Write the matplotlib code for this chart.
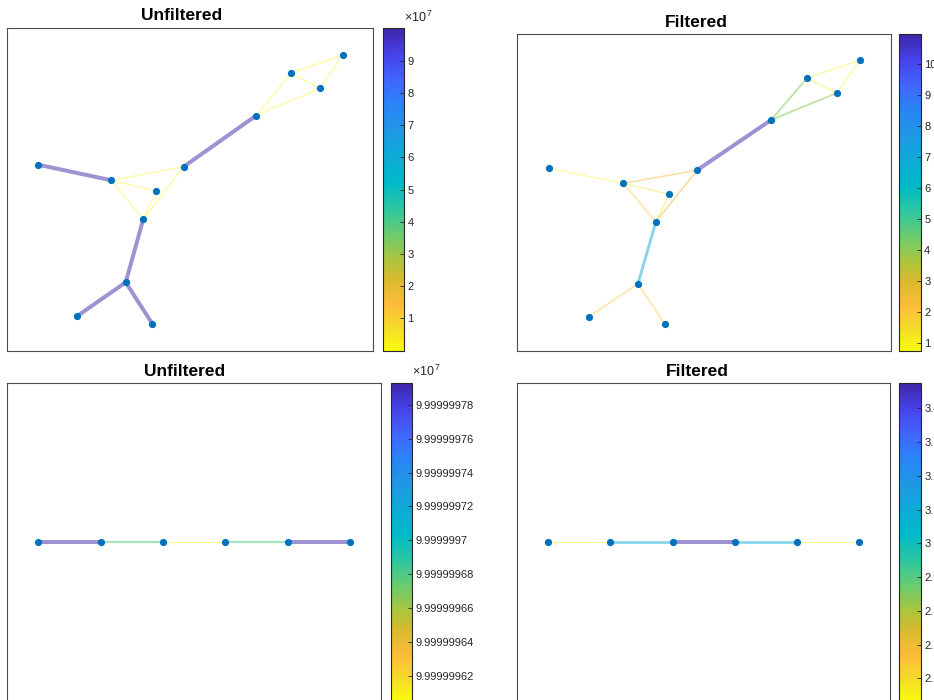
import matplotlib
matplotlib.use("Agg")
import matplotlib.pyplot as plt
import numpy as np
from matplotlib import transforms
from matplotlib.cm import ScalarMappable
from matplotlib.collections import LineCollection
from matplotlib.colors import LinearSegmentedColormap, Normalize

plt.rcParams["font.family"] = ["Liberation Sans", "DejaVu Sans"]
plt.rcParams["mathtext.fontset"] = "custom"
plt.rcParams["mathtext.rm"] = "Liberation Sans"

# ---- graph 1: 12-node layout (top row) ----
NODE_X = [31.0, 104.0, 149.0, 176.4, 136.0, 118.4, 70.0, 145.0, 248.7, 283.7, 313.0, 335.4]
NODE_Y = [186.0, 170.4, 159.4, 184.0, 131.7, 68.4, 34.7, 27.0, 235.0, 277.4, 262.4, 295.7]
EDGES = [(0, 1), (1, 3), (1, 2), (1, 4), (2, 4), (4, 3), (3, 8), (4, 5),
         (5, 6), (5, 7), (8, 9), (8, 10), (9, 10), (9, 11), (10, 11)]
W_UNFILTERED = [1e8, 1, 1, 1, 1, 1, 1e8, 1e8, 1e8, 1e8, 1, 1, 1, 1, 1]
W_FILTERED = [0.75, 2.3, 1.3, 1.9, 1.4, 2.6, 10.98, 6.9, 2.0, 2.0, 4.1, 4.1, 1.1, 1.0, 1.0]

# ---- graph 2: 6-node path (bottom row) ----
PATH_X = [1, 2, 3, 4, 5, 6]
PATH_Y = [0, 0, 0, 0, 0, 0]
PATH_EDGES = [(0, 1), (1, 2), (2, 3), (3, 4), (4, 5)]
PATH_W_UNFILTERED = [99999997.93, 99999996.80, 99999996.05, 99999996.80, 99999997.93]
PATH_W_FILTERED = [2.533, 3.10, 3.475, 3.10, 2.533]

# colorbar ticks
TICKS_TL = [1e7, 2e7, 3e7, 4e7, 5e7, 6e7, 7e7, 8e7, 9e7]
LABELS_TL = ["1", "2", "3", "4", "5", "6", "7", "8", "9"]
TICKS_TR = [1, 2, 3, 4, 5, 6, 7, 8, 9, 10]
LABELS_TR = ["1", "2", "3", "4", "5", "6", "7", "8", "9", "10"]
TICKS_BL = [99999996.2, 99999996.4, 99999996.6, 99999996.8, 99999997.0,
            99999997.2, 99999997.4, 99999997.6, 99999997.8]
LABELS_BL = ["9.99999962", "9.99999964", "9.99999966", "9.99999968", "9.9999997",
             "9.99999972", "9.99999974", "9.99999976", "9.99999978"]
TICKS_BR = [2.6, 2.7, 2.8, 2.9, 3.0, 3.1, 3.2, 3.3, 3.4]
LABELS_BR = ["2.6", "2.7", "2.8", "2.9", "3", "3.1", "3.2", "3.3", "3.4"]

# parula-ish, flipped so that yellow is low
PARULA = [
    (0.00, (0.242, 0.150, 0.660)),
    (0.08, (0.276, 0.260, 0.920)),
    (0.16, (0.255, 0.400, 0.995)),
    (0.24, (0.160, 0.520, 0.960)),
    (0.32, (0.120, 0.600, 0.890)),
    (0.40, (0.050, 0.670, 0.840)),
    (0.48, (0.000, 0.730, 0.780)),
    (0.56, (0.180, 0.780, 0.630)),
    (0.64, (0.420, 0.800, 0.430)),
    (0.72, (0.680, 0.770, 0.240)),
    (0.78, (0.850, 0.730, 0.180)),
    (0.86, (0.990, 0.740, 0.230)),
    (0.93, (0.960, 0.860, 0.160)),
    (1.00, (0.976, 0.983, 0.054)),
]
CMAP = LinearSegmentedColormap.from_list("parula", PARULA, N=256).reversed()
NODE_COLOR = (0.0, 0.447, 0.741)
DARK = (0.15, 0.15, 0.15)

W, H = 934, 700
fig = plt.figure(figsize=(W / 100, H / 100), dpi=100)


def px_axes(x0, y0, x1, y1):
    # pixel box (top-left origin) -> figure axes
    return fig.add_axes([x0 / W, 1 - y1 / H, (x1 - x0) / W, (y1 - y0) / H])


def draw_graph(ax, cax, xs, ys, edges, w, xlim, ylim, ticks, labels, exponent=None):
    w = np.asarray(w, dtype=float)
    norm = Normalize(w.min(), w.max())
    frac = (w - w.min()) / (w.max() - w.min())
    widths = (1 + 3 * frac) * 72 / 100
    colors = CMAP(norm(w))
    colors[:, 3] = 0.5
    segs = [[(xs[a], ys[a]), (xs[b], ys[b])] for a, b in edges]
    ax.add_collection(LineCollection(segs, colors=colors, linewidths=widths,
                                     capstyle="butt", zorder=1))
    ax.plot(xs, ys, "o", color=NODE_COLOR, ms=5.2, mec="none", zorder=2)
    ax.set_xlim(*xlim)
    ax.set_ylim(*ylim)
    ax.set_xticks([])
    ax.set_yticks([])
    for s in ax.spines.values():
        s.set_edgecolor("0.3")
        s.set_linewidth(0.8)

    cb = fig.colorbar(ScalarMappable(norm=norm, cmap=CMAP), cax=cax)
    cb.set_ticks(ticks, labels=labels)
    cb.outline.set_edgecolor(DARK)
    cb.outline.set_linewidth(0.8)
    cax.tick_params(direction="in", length=3, width=0.6, colors=DARK,
                    labelsize=8, pad=2.5)
    if exponent:
        tr = transforms.offset_copy(cax.transAxes, fig=fig, x=0, y=6.5, units="dots")
        cax.text(1.0, 1.0, exponent, transform=tr, ha="left", va="baseline",
                 fontsize=9, color=DARK)


ax_tl = px_axes(7.3, 28.3, 373.3, 350.7)
cax_tl = px_axes(383.3, 28.3, 404.0, 350.7)
ax_tr = px_axes(517.0, 34.0, 891.0, 351.0)
cax_tr = px_axes(899.3, 34.0, 920.7, 351.0)
ax_bl = px_axes(7.3, 383.0, 381.0, 701.0)
cax_bl = px_axes(390.7, 383.0, 411.7, 701.0)
ax_br = px_axes(517.3, 383.0, 890.0, 701.0)
cax_br = px_axes(899.3, 383.0, 920.7, 701.0)

EXP7 = r"$\mathregular{\times10^{\,7}}$"
draw_graph(ax_tl, cax_tl, NODE_X, NODE_Y, EDGES, W_UNFILTERED,
           (0, 366), (0, 322.4), TICKS_TL, LABELS_TL, EXP7)
draw_graph(ax_tr, cax_tr, NODE_X, NODE_Y, EDGES, W_FILTERED,
           (0, 366), (0, 322.4), TICKS_TR, LABELS_TR)
draw_graph(ax_bl, cax_bl, PATH_X, PATH_Y, PATH_EDGES, PATH_W_UNFILTERED,
           (0.5, 6.5), (-1, 1), TICKS_BL, LABELS_BL, EXP7)
draw_graph(ax_br, cax_br, PATH_X, PATH_Y, PATH_EDGES, PATH_W_FILTERED,
           (0.5, 6.5), (-1, 1), TICKS_BR, LABELS_BR)

for label, (cx, base) in [("Unfiltered", (181.5, 20.0)), ("Filtered", (696.5, 26.7)),
                          ("Unfiltered", (185.0, 375.7)), ("Filtered", (697.0, 375.7))]:
    fig.text(cx / W, 1 - base / H, label, ha="center", va="baseline",
             fontsize=12.5, fontweight="bold", color="black")

fig.savefig("out.png", dpi=100)
